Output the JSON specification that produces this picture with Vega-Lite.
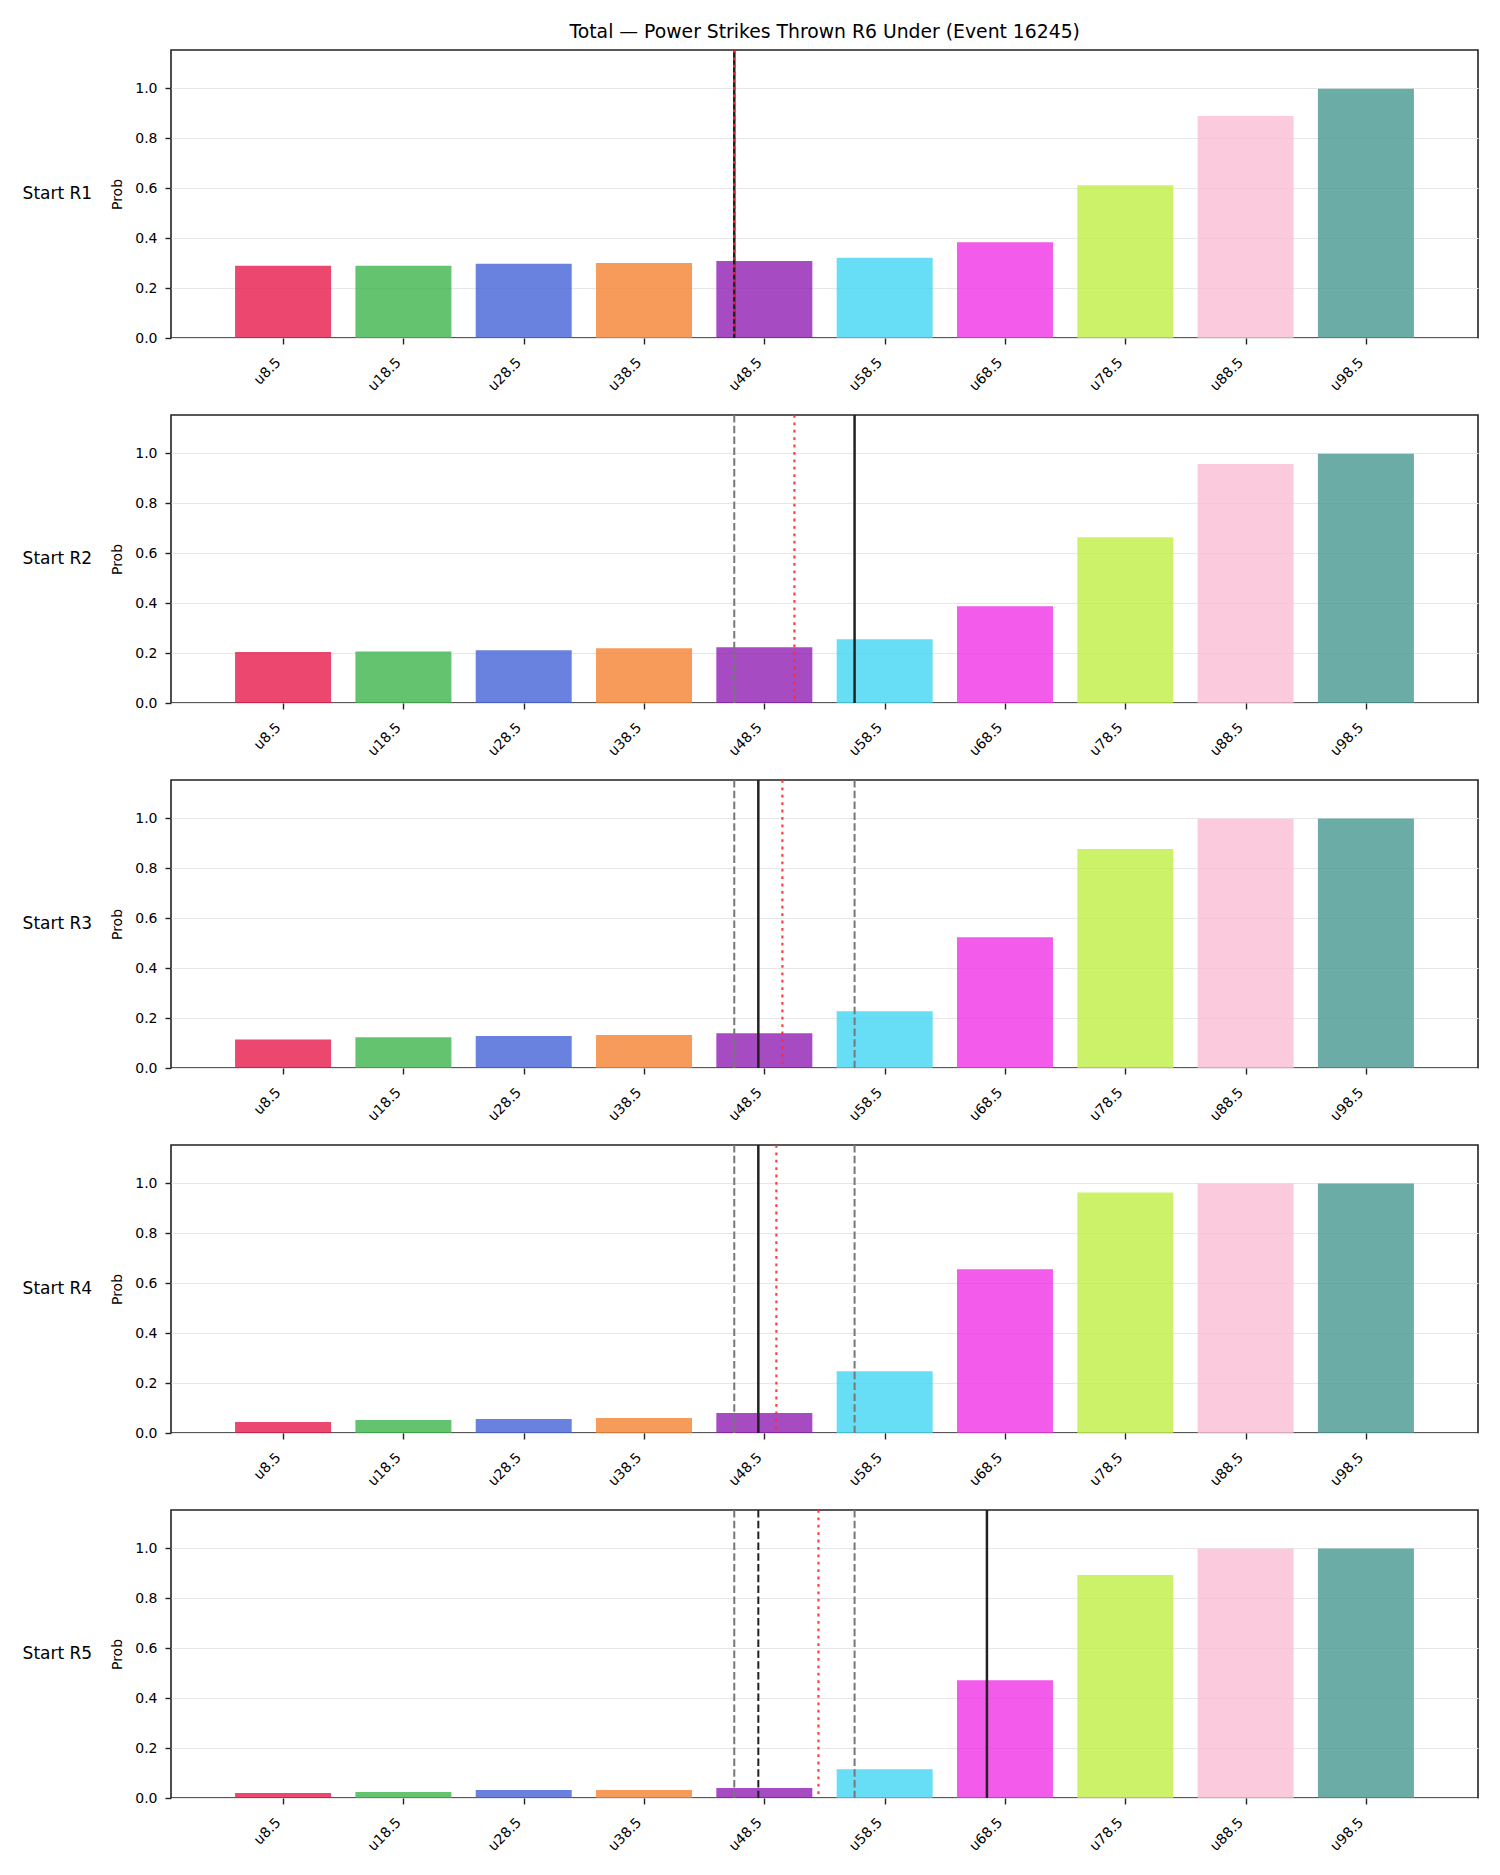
{
  "$schema": "https://vega.github.io/schema/vega-lite/v6.json",
  "padding": {"left": 22, "top": 23, "right": 20, "bottom": 10},
  "background": "white",
  "title": {"text": "Total — Power Strikes Thrown R6 Under (Event 16245)", "fontSize": 18.8, "fontWeight": "normal", "font": "DejaVu Sans", "color": "black", "anchor": "middle", "offset": 6, "dx": 74},
  "config": {
    "font": "DejaVu Sans",
    "view": {"stroke": "#222222", "strokeWidth": 1.6},
    "axis": {"labelFont": "DejaVu Sans", "titleFont": "DejaVu Sans", "labelColor": "black", "titleColor": "black", "tickColor": "#222222", "tickWidth": 1.4, "tickSize": 6, "domain": false, "labelFontSize": 14, "titleFontSize": 14, "titleFontWeight": "normal"}
  },
  "data": {"values": [
    {"start": "Start R1", "kind": "bar", "label": "u8.5", "thr": 8.5, "prob": 0.289},
    {"start": "Start R1", "kind": "bar", "label": "u18.5", "thr": 18.5, "prob": 0.289},
    {"start": "Start R1", "kind": "bar", "label": "u28.5", "thr": 28.5, "prob": 0.297},
    {"start": "Start R1", "kind": "bar", "label": "u38.5", "thr": 38.5, "prob": 0.300},
    {"start": "Start R1", "kind": "bar", "label": "u48.5", "thr": 48.5, "prob": 0.308},
    {"start": "Start R1", "kind": "bar", "label": "u58.5", "thr": 58.5, "prob": 0.321},
    {"start": "Start R1", "kind": "bar", "label": "u68.5", "thr": 68.5, "prob": 0.384},
    {"start": "Start R1", "kind": "bar", "label": "u78.5", "thr": 78.5, "prob": 0.612},
    {"start": "Start R1", "kind": "bar", "label": "u88.5", "thr": 88.5, "prob": 0.889},
    {"start": "Start R1", "kind": "bar", "label": "u98.5", "thr": 98.5, "prob": 0.998},
    {"start": "Start R2", "kind": "bar", "label": "u8.5", "thr": 8.5, "prob": 0.204},
    {"start": "Start R2", "kind": "bar", "label": "u18.5", "thr": 18.5, "prob": 0.206},
    {"start": "Start R2", "kind": "bar", "label": "u28.5", "thr": 28.5, "prob": 0.211},
    {"start": "Start R2", "kind": "bar", "label": "u38.5", "thr": 38.5, "prob": 0.219},
    {"start": "Start R2", "kind": "bar", "label": "u48.5", "thr": 48.5, "prob": 0.223},
    {"start": "Start R2", "kind": "bar", "label": "u58.5", "thr": 58.5, "prob": 0.255},
    {"start": "Start R2", "kind": "bar", "label": "u68.5", "thr": 68.5, "prob": 0.388},
    {"start": "Start R2", "kind": "bar", "label": "u78.5", "thr": 78.5, "prob": 0.664},
    {"start": "Start R2", "kind": "bar", "label": "u88.5", "thr": 88.5, "prob": 0.957},
    {"start": "Start R2", "kind": "bar", "label": "u98.5", "thr": 98.5, "prob": 0.998},
    {"start": "Start R3", "kind": "bar", "label": "u8.5", "thr": 8.5, "prob": 0.114},
    {"start": "Start R3", "kind": "bar", "label": "u18.5", "thr": 18.5, "prob": 0.123},
    {"start": "Start R3", "kind": "bar", "label": "u28.5", "thr": 28.5, "prob": 0.128},
    {"start": "Start R3", "kind": "bar", "label": "u38.5", "thr": 38.5, "prob": 0.132},
    {"start": "Start R3", "kind": "bar", "label": "u48.5", "thr": 48.5, "prob": 0.139},
    {"start": "Start R3", "kind": "bar", "label": "u58.5", "thr": 58.5, "prob": 0.227},
    {"start": "Start R3", "kind": "bar", "label": "u68.5", "thr": 68.5, "prob": 0.524},
    {"start": "Start R3", "kind": "bar", "label": "u78.5", "thr": 78.5, "prob": 0.877},
    {"start": "Start R3", "kind": "bar", "label": "u88.5", "thr": 88.5, "prob": 0.998},
    {"start": "Start R3", "kind": "bar", "label": "u98.5", "thr": 98.5, "prob": 0.999},
    {"start": "Start R4", "kind": "bar", "label": "u8.5", "thr": 8.5, "prob": 0.044},
    {"start": "Start R4", "kind": "bar", "label": "u18.5", "thr": 18.5, "prob": 0.052},
    {"start": "Start R4", "kind": "bar", "label": "u28.5", "thr": 28.5, "prob": 0.056},
    {"start": "Start R4", "kind": "bar", "label": "u38.5", "thr": 38.5, "prob": 0.060},
    {"start": "Start R4", "kind": "bar", "label": "u48.5", "thr": 48.5, "prob": 0.080},
    {"start": "Start R4", "kind": "bar", "label": "u58.5", "thr": 58.5, "prob": 0.247},
    {"start": "Start R4", "kind": "bar", "label": "u68.5", "thr": 68.5, "prob": 0.656},
    {"start": "Start R4", "kind": "bar", "label": "u78.5", "thr": 78.5, "prob": 0.963},
    {"start": "Start R4", "kind": "bar", "label": "u88.5", "thr": 88.5, "prob": 0.999},
    {"start": "Start R4", "kind": "bar", "label": "u98.5", "thr": 98.5, "prob": 0.999},
    {"start": "Start R5", "kind": "bar", "label": "u8.5", "thr": 8.5, "prob": 0.020},
    {"start": "Start R5", "kind": "bar", "label": "u18.5", "thr": 18.5, "prob": 0.024},
    {"start": "Start R5", "kind": "bar", "label": "u28.5", "thr": 28.5, "prob": 0.032},
    {"start": "Start R5", "kind": "bar", "label": "u38.5", "thr": 38.5, "prob": 0.032},
    {"start": "Start R5", "kind": "bar", "label": "u48.5", "thr": 48.5, "prob": 0.040},
    {"start": "Start R5", "kind": "bar", "label": "u58.5", "thr": 58.5, "prob": 0.115},
    {"start": "Start R5", "kind": "bar", "label": "u68.5", "thr": 68.5, "prob": 0.472},
    {"start": "Start R5", "kind": "bar", "label": "u78.5", "thr": 78.5, "prob": 0.893},
    {"start": "Start R5", "kind": "bar", "label": "u88.5", "thr": 88.5, "prob": 0.998},
    {"start": "Start R5", "kind": "bar", "label": "u98.5", "thr": 98.5, "prob": 0.999},
    {"start": "Start R1", "kind": "range", "v": 46},
    {"start": "Start R1", "kind": "solid", "v": 46},
    {"start": "Start R1", "kind": "mean", "v": 46},
    {"start": "Start R2", "kind": "range", "v": 46},
    {"start": "Start R2", "kind": "mean", "v": 51},
    {"start": "Start R2", "kind": "solid", "v": 56},
    {"start": "Start R3", "kind": "range", "v": 46},
    {"start": "Start R3", "kind": "range", "v": 56},
    {"start": "Start R3", "kind": "solid", "v": 48},
    {"start": "Start R3", "kind": "mean", "v": 50},
    {"start": "Start R4", "kind": "range", "v": 46},
    {"start": "Start R4", "kind": "range", "v": 56},
    {"start": "Start R4", "kind": "solid", "v": 48},
    {"start": "Start R4", "kind": "mean", "v": 49.5},
    {"start": "Start R5", "kind": "range", "v": 46},
    {"start": "Start R5", "kind": "range", "v": 56},
    {"start": "Start R5", "kind": "dashed", "v": 48},
    {"start": "Start R5", "kind": "mean", "v": 53},
    {"start": "Start R5", "kind": "solid", "v": 67}
  ]},
  "facet": {"row": {"field": "start", "type": "nominal", "header": {"title": null, "labelAngle": 0, "labelOrient": "left", "labelFontSize": 17, "labelFont": "DejaVu Sans", "labelColor": "black", "labelPadding": -51}}},
  "spacing": 77,
  "bounds": "flush",
  "resolve": {"axis": {"x": "independent"}},
  "spec": {
    "width": 1307,
    "height": 288,
    "layer": [
      {
        "transform": [{"filter": "datum.kind === 'bar'"}],
        "mark": {"type": "bar", "orient": "vertical", "size": 96, "opacity": 0.8},
        "encoding": {
          "x": {"field": "thr", "type": "quantitative", "scale": {"domain": [-0.4, 107.4], "nice": false, "zero": false},
                "axis": {"title": null, "values": [8.5, 18.5, 28.5, 38.5, 48.5, 58.5, 68.5, 78.5, 88.5, 98.5], "labelExpr": "'u' + datum.value", "grid": false, "labelAngle": -45, "labelAlign": "right", "labelBaseline": "bottom", "labelPadding": 21, "labelBound": false, "labelOverlap": false, "labelFlush": false}},
          "y": {"field": "prob", "type": "quantitative", "scale": {"domain": [0, 1.1536], "nice": false},
                "axis": {"title": "Prob", "values": [0, 0.2, 0.4, 0.6, 0.8, 1.0], "format": ".1f", "grid": true, "gridColor": "#e6e6e6", "gridWidth": 1, "labelPadding": 8, "titlePadding": 10}},
          "color": {"field": "label", "type": "nominal", "legend": null,
                    "scale": {"domain": ["u8.5", "u18.5", "u28.5", "u38.5", "u48.5", "u58.5", "u68.5", "u78.5", "u88.5", "u98.5"],
                              "range": ["#e6194b", "#3cb44b", "#4363d8", "#f58231", "#911eb4", "#42d4f4", "#f032e6", "#bfef45", "#fabed4", "#469990"]}}
        }
      },
      {
        "transform": [{"filter": "datum.kind === 'range'"}],
        "mark": {"type": "rule", "color": "#777777", "strokeWidth": 2, "strokeDash": [7.5, 3.3]},
        "encoding": {"x": {"field": "v", "type": "quantitative"}}
      },
      {
        "transform": [{"filter": "datum.kind === 'dashed'"}],
        "mark": {"type": "rule", "color": "#222222", "strokeWidth": 2, "strokeDash": [7.5, 3.3]},
        "encoding": {"x": {"field": "v", "type": "quantitative"}}
      },
      {
        "transform": [{"filter": "datum.kind === 'solid'"}],
        "mark": {"type": "rule", "color": "#222222", "strokeWidth": 2.5},
        "encoding": {"x": {"field": "v", "type": "quantitative"}}
      },
      {
        "transform": [{"filter": "datum.kind === 'mean'"}],
        "mark": {"type": "rule", "color": "#ff2a2a", "opacity": 0.9, "strokeWidth": 2.2, "strokeDash": [2.8, 4.6]},
        "encoding": {"x": {"field": "v", "type": "quantitative"}}
      }
    ]
  }
}
